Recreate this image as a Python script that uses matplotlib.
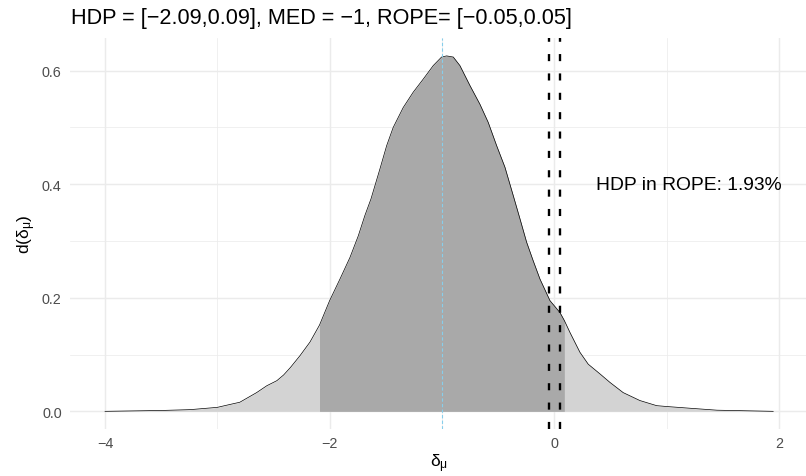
import matplotlib
matplotlib.use("Agg")
import matplotlib.pyplot as plt
import numpy as np

# ---- data ----
delta_x = [-4.0, -3.5, -3.24, -3.0, -2.89, -2.8, -2.65, -2.56, -2.47, -2.41, -2.35,
           -2.264, -2.175, -2.09, -2.0, -1.908, -1.819, -1.745, -1.686, -1.632, -1.552,
           -1.492, -1.434, -1.345, -1.256, -1.167, -1.077, -1.003, -0.958, -0.899,
           -0.840, -0.751, -0.662, -0.588, -0.513, -0.439, -0.365, -0.305, -0.246,
           -0.187, -0.127, -0.038, 0.051, 0.09, 0.14, 0.229, 0.303, 0.407, 0.496,
           0.614, 0.763, 0.912, 1.0, 1.24, 1.45, 1.7, 1.95]
density = [0.0, 0.0015, 0.003, 0.007, 0.012, 0.016, 0.033, 0.045, 0.054, 0.064, 0.077,
           0.098, 0.122, 0.152, 0.195, 0.233, 0.271, 0.309, 0.345, 0.374, 0.427,
           0.468, 0.500, 0.535, 0.562, 0.585, 0.609, 0.624, 0.626, 0.624,
           0.609, 0.574, 0.541, 0.509, 0.468, 0.430, 0.380, 0.339, 0.298,
           0.265, 0.233, 0.195, 0.174, 0.160, 0.139, 0.104, 0.083, 0.066, 0.051,
           0.033, 0.019, 0.010, 0.0085, 0.005, 0.002, 0.001, 0.0]
hdp = [-2.09, 0.09]
median = -1.0
rope = [-0.05, 0.05]
rope_share = "1.93%"
title = "HDP = [\u22122.09,0.09], MED = \u22121, ROPE= [\u22120.05,0.05]"
x_ticks = [-4, -2, 0, 2]
x_ticklabels = ["\u22124", "\u22122", "0", "2"]
y_ticks = [0.0, 0.2, 0.4, 0.6]
y_ticklabels = ["0.0", "0.2", "0.4", "0.6"]

plt.rcParams['font.family'] = ['Liberation Sans', 'DejaVu Sans']
plt.rcParams['mathtext.fontset'] = 'custom'
plt.rcParams['mathtext.rm'] = 'Liberation Sans'
plt.rcParams['mathtext.it'] = 'Liberation Sans'
plt.rcParams['mathtext.bf'] = 'Liberation Sans:bold'

W, H = 806, 477
fig = plt.figure(figsize=(W / 100, H / 100), dpi=100)
left, right, bottom, top = 70, 807, 430.1, 39.3
ax = fig.add_axes([left / W, (H - bottom) / H, (right - left) / W, (bottom - top) / H])

x = np.array(delta_x)
y = np.array(density)

ax.fill_between(x, 0, y, color="#D3D3D3", linewidth=0, zorder=2)
mask = (x >= hdp[0] - 1e-9) & (x <= hdp[1] + 1e-9)
ax.fill_between(x[mask], 0, y[mask], color="#A9A9A9", linewidth=0, zorder=3)
ax.plot(x, y, color="black", linewidth=0.5, zorder=4)

ax.axvline(median, color="#87CEEB", linewidth=0.8, linestyle=(0, (3, 2)), zorder=5)
for r in rope:
    ax.axvline(r, color="black", linewidth=1.7, linestyle=(0, (3.0, 5.2)), zorder=6)

ax.text(1.2, 0.4, "HDP in ROPE: " + rope_share, ha="center", va="center",
        fontsize=13.9, color="black", zorder=7)

ax.set_xlim(-4.312, 2.251)
ax.set_ylim(-0.0313, 0.657)

ax.set_xticks(x_ticks)
ax.set_xticklabels(x_ticklabels)
ax.set_yticks(y_ticks)
ax.set_yticklabels(y_ticklabels)
ax.set_xticks([-3, -1, 1], minor=True)
ax.set_yticks([0.1, 0.3, 0.5], minor=True)
ax.tick_params(which="both", length=0)
ax.tick_params(axis="x", which="major", labelsize=10.4, labelcolor="#4D4D4D", pad=5)
ax.tick_params(axis="y", which="major", labelsize=10.4, labelcolor="#4D4D4D", pad=6)
ax.grid(which="major", color="#EBEBEB", linewidth=1.07, zorder=0)
ax.grid(which="minor", color="#EBEBEB", linewidth=0.53, zorder=0)
ax.set_axisbelow(True)
for s in ax.spines.values():
    s.set_visible(False)

ax.set_xlabel(r"$\delta_{\mu}$", fontsize=12.5, labelpad=1)
ax.set_ylabel(r"$d(\delta_{\mu})$", fontsize=12.5, labelpad=3)

fig.text(71 / W, 1 - 24.3 / H, title, fontsize=15.6, ha="left", va="baseline")

fig.savefig("out.png", dpi=100)
